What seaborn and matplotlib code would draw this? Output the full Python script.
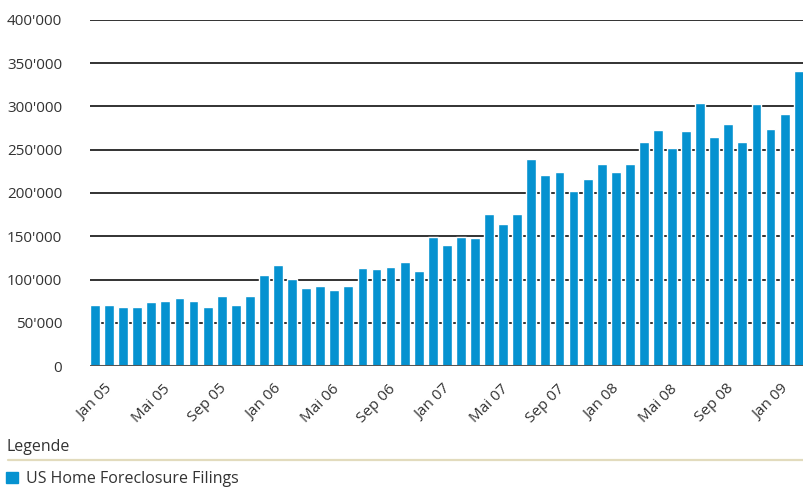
import matplotlib.pyplot as plt
import seaborn as sns
import numpy as np
import pandas as pd
from matplotlib.lines import Line2D
from matplotlib.patches import Patch
from matplotlib.ticker import FuncFormatter

# monthly data, Jan 05 .. Mar 09
months_de = ["Jan", "Feb", "Mär", "Apr", "Mai", "Jun", "Jul", "Aug", "Sep", "Okt", "Nov", "Dez"]
years = ["05", "06", "07", "08", "09"]
filings = [
    71000, 70000, 68500, 68500, 73500, 75000, 79000, 75000, 68500, 81000, 71000, 81000,
    105000, 116500, 101000, 90500, 93000, 88000, 93000, 113500, 112500, 115000, 120500, 110000,
    149000, 140000, 149000, 147500, 176000, 164500, 176000, 239500, 220500, 224000, 202000, 216000,
    233000, 224000, 233000, 258500, 273000, 252500, 271500, 304000, 265000, 279500, 258500, 302500,
    274500, 291000, 341500,
]
labels = [f"{m} {y}" for y in years for m in months_de][:len(filings)]

bar_color = "#0592d0"
legend_line_color = "#e2dbbd"
series_name = "US Home Foreclosure Filings"

df = pd.DataFrame({"month": labels, "filings": filings})

sns.set_style("white")
plt.rcParams["font.family"] = ["Open Sans", "DejaVu Sans"]

fig = plt.figure(figsize=(8.04, 4.88), dpi=100)
ax = fig.add_axes([90 / 804, 1 - 366 / 488, 714 / 804, 346 / 488])

sns.barplot(data=df, x="month", y="filings", color=bar_color, width=0.7,
            saturation=1, ax=ax, zorder=3)

ax.set_ylim(0, 400000)
ax.set_xlim(-0.36, len(filings) - 0.62)
ax.set_yticks(np.arange(0, 400001, 50000))
ax.yaxis.set_major_formatter(FuncFormatter(lambda v, p: f"{int(v):,}".replace(",", "'")))
ax.grid(axis="y", color="#222222", linewidth=1.3, zorder=0)
ax.axhline(0, color="#555555", linewidth=2.2, zorder=4)

ticks = list(range(0, len(filings), 4))
ax.set_xticks(ticks)
ax.set_xticklabels([labels[i] for i in ticks], rotation=45, ha="center",
                   fontsize=11, color="#333333")
ax.tick_params(axis="x", length=0, pad=11)
ax.tick_params(axis="y", length=0, pad=20, labelsize=11, labelcolor="#333333")
ax.set_xlabel("")
ax.set_ylabel("")
for s in ax.spines.values():
    s.set_visible(False)

# legend area below the chart
fig.text(7 / 804, 1 - 447 / 488, "Legende", fontsize=11.5, color="#333333", va="center")
fig.add_artist(Line2D([8 / 804, 1], [1 - 460 / 488, 1 - 460 / 488],
                      color=legend_line_color, linewidth=1.6))
fig.legend(handles=[Patch(color=bar_color, label=series_name)],
           loc="center left", bbox_to_anchor=(-8 / 804, 1 - 479 / 488),
           frameon=False, fontsize=11.5, handlelength=0.75, handleheight=0.75,
           handletextpad=0.5, labelcolor="#333333")

fig.savefig("out.png", dpi=100)
